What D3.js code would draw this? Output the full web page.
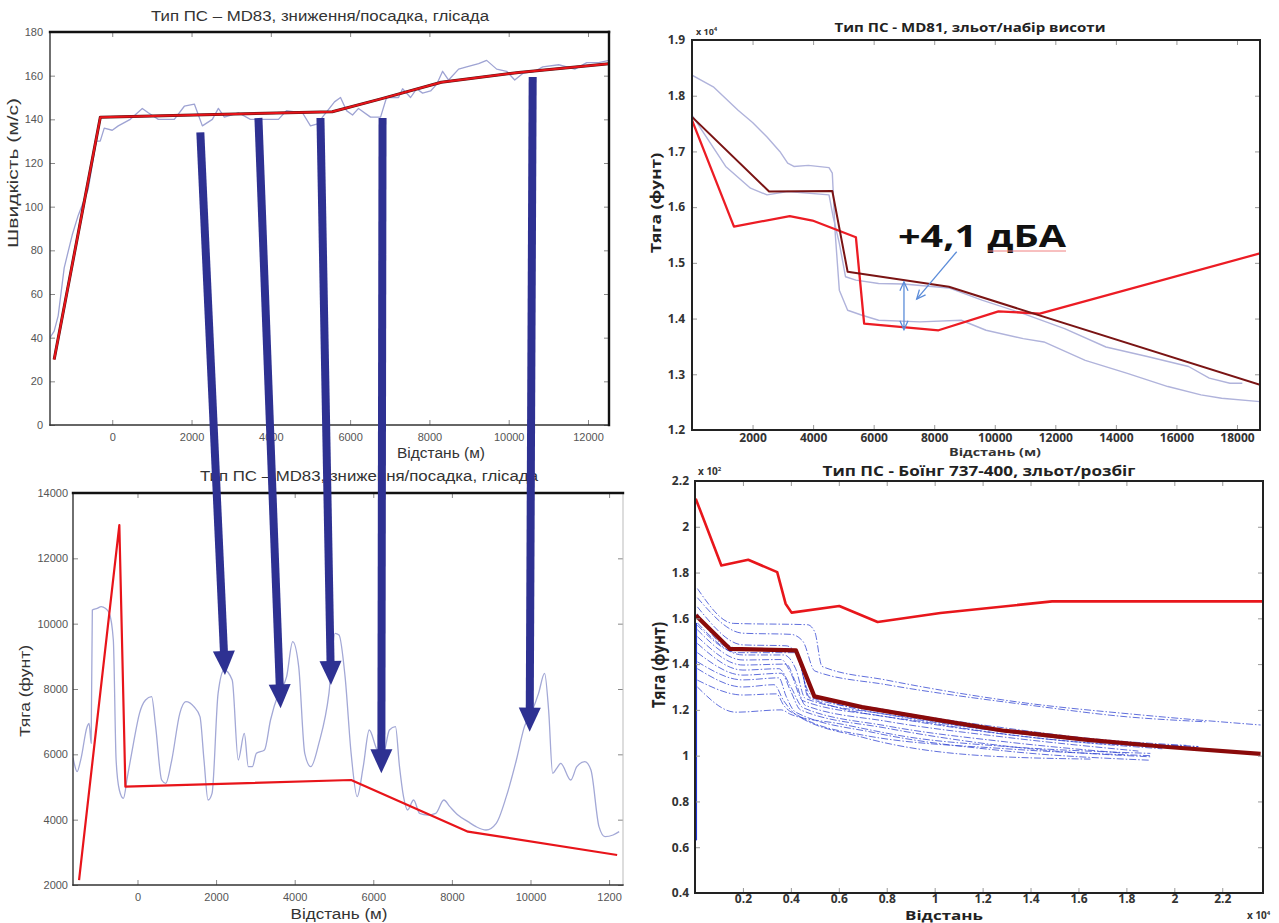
<!DOCTYPE html>
<html>
<head>
<meta charset="utf-8">
<script src="https://cdn.jsdelivr.net/npm/d3@7"></script>
<style>
  body { margin: 0; background: #fff; }
  svg { display: block; }
</style>
</head>
<body>
<div id="chart"></div>
<script>
// ---------- data: top-left, MD83 speed (distance m, speed m/s) ----------
var tlXTicks = [0, 2000, 4000, 6000, 8000, 10000, 12000];
var tlXLabels = ["0", "2000", "4000", "6000", "8000", "10000", "12000"];
var tlYTicks = [0, 20, 40, 60, 80, 100, 120, 140, 160, 180];
var tlModel = [[-1465, 30], [-300, 141], [5550, 143.5], [6800, 149.5], [8300, 157], [10250, 161.5], [12530, 165.5]];
var tlMeasured = [[-1570, 40], [-1465, 43], [-1364, 50], [-1212, 72], [-1010, 87], [-859, 96], [-606, 108], [-404, 130],
  [-303, 130], [-202, 136], [0, 135], [152, 137], [455, 140], [758, 145], [909, 143], [1162, 140], [1566, 140],
  [1818, 146], [2071, 147], [2273, 137], [2525, 140], [2677, 145], [2828, 141], [3182, 143], [3485, 140], [4192, 140],
  [4394, 144], [4798, 143], [5000, 137], [5202, 138], [5303, 141], [5606, 148], [5758, 150], [5909, 144], [6061, 142],
  [6212, 145], [6515, 141], [6768, 141], [6919, 150], [7222, 150], [7323, 154], [7525, 150], [7677, 154], [7828, 152],
  [8030, 153], [8182, 156], [8333, 162], [8485, 158], [8737, 163], [8939, 164], [9242, 165.5], [9444, 167], [9697, 163],
  [9949, 162], [10152, 158], [10354, 161], [10657, 162], [10859, 164], [11263, 165], [11667, 163], [11970, 166],
  [12273, 166], [12530, 167]];

// ---------- data: bottom-left, MD83 thrust (distance m, thrust lb) ----------
var blXTicks = [0, 2000, 4000, 6000, 8000, 10000, 12000];
var blXLabels = ["0", "2000", "4000", "6000", "8000", "10000", "1200"];
var blYTicks = [2000, 4000, 6000, 8000, 10000, 12000, 14000];
var blModel = [[-1487, 2153], [-462, 13020], [-308, 5010], [5436, 5214], [8410, 3633], [12205, 2918]];
var blMeasured = [[-1641, 5900], [-1610, 5724], [-1538, 5469], [-1436, 5878], [-1282, 6847], [-1231, 6949], [-1179, 6337],
  [-1149, 10418], [-1026, 10469], [-923, 10520], [-820, 10469], [-718, 10316], [-615, 9500], [-544, 5826], [-462, 4908],
  [-359, 4653], [-256, 5316], [-103, 6337], [51, 7255], [205, 7663], [359, 7765], [462, 6847], [615, 5214], [718, 5112],
  [872, 5826], [1077, 7255], [1231, 7612], [1436, 7459], [1590, 7153], [1692, 5826], [1795, 4602], [1897, 4806],
  [2051, 7867], [2205, 8582], [2410, 8276], [2564, 5826], [2718, 6643], [2820, 5622], [2923, 5622], [3026, 6031],
  [3231, 6133], [3385, 7051], [3590, 7867], [3795, 8378], [3949, 9449], [4102, 8684], [4256, 6031], [4410, 5622],
  [4615, 6337], [4872, 7867], [5026, 9704], [5128, 9653], [5282, 8378], [5436, 6031], [5590, 4704], [5744, 5622],
  [5897, 6745], [6102, 6133], [6256, 6031], [6410, 6745], [6564, 6847], [6667, 5622], [6769, 4704], [6872, 4296],
  [7026, 4602], [7179, 4194], [7384, 4143], [7589, 4194], [7795, 4602], [7948, 4398], [8154, 4143], [8410, 3939],
  [8615, 3786], [8872, 3684], [9128, 3888], [9384, 4704], [9641, 5826], [9846, 6847], [10051, 7357], [10205, 7867],
  [10359, 8480], [10461, 7357], [10564, 5418], [10666, 5571], [10769, 5724], [11025, 5214], [11179, 5622],
  [11384, 5775], [11538, 5520], [11743, 3786], [11897, 3480], [12102, 3531], [12256, 3633]];

// arrows: start on the speed chart (distance, speed), tip on the thrust chart (distance, thrust)
var arrowStarts = [[2222, 134], [3687, 140.6], [5252, 140.6], [6818, 140.6], [10605, 159.4]];
var arrowTips = [[2226, 8429], [3641, 7408], [4923, 8122], [6205, 5418], [9979, 6694]];

// ---------- data: top-right, MD81 thrust x10^4 lb ----------
var trXTicks = [2000, 4000, 6000, 8000, 10000, 12000, 14000, 16000, 18000];
var trYTicks = [1.2, 1.3, 1.4, 1.5, 1.6, 1.7, 1.8, 1.9];
var trRed = [[0, 1.756], [1386, 1.565], [3228, 1.584], [3980, 1.576], [5413, 1.546], [5686, 1.391], [8143, 1.379],
  [10122, 1.413], [11487, 1.409], [18760, 1.517]];
var trDark = [[0, 1.762], [2546, 1.628], [4634, 1.629], [5140, 1.484], [8484, 1.457], [18760, 1.281]];
var trRunA = [[0, 1.837], [703, 1.816], [1522, 1.774], [2000, 1.752], [2478, 1.726], [2900, 1.70], [3160, 1.679],
  [3365, 1.673], [3843, 1.675], [4525, 1.671], [4634, 1.661], [4730, 1.553], [4866, 1.451], [5140, 1.415],
  [5617, 1.406], [6163, 1.397], [7528, 1.394], [8893, 1.397], [9712, 1.379], [10940, 1.364], [11623, 1.358],
  [12988, 1.325], [14353, 1.302], [15718, 1.278], [16810, 1.263], [17493, 1.257], [18760, 1.251]];
var trRunB = [[0, 1.765], [1113, 1.673], [1932, 1.634], [2478, 1.622], [3160, 1.628], [4525, 1.622], [4661, 1.583],
  [4866, 1.535], [5071, 1.475], [5413, 1.469], [6163, 1.463], [6982, 1.462], [8484, 1.455], [9576, 1.433],
  [10940, 1.409], [12306, 1.382], [13671, 1.349], [15036, 1.332], [16401, 1.314], [17084, 1.293], [17766, 1.284],
  [18176, 1.284]];
var trGap = [[7001, 1.466], [7001, 1.380]];
var trPointer = [[8742, 1.52], [7421, 1.435]];

// ---------- data: bottom-right, Boeing 737-400 thrust x10^2 ----------
var brXTicks = [0.2, 0.4, 0.6, 0.8, 1, 1.2, 1.4, 1.6, 1.8, 2, 2.2];
var brXLabels = ["0.2", "0.4", "0.6", "0.8", "1", "1.2", "1.4", "1.6", "1.8", "2", "2.2"];
var brYTicks = [0.4, 0.6, 0.8, 1, 1.2, 1.4, 1.6, 1.8, 2, 2.2];
var brYLabels = ["0.4", "0.6", "0.8", "1", "1.2", "1.4", "1.6", "1.8", "2", "2.2"];
var brRed = [[0.003, 2.123], [0.110, 1.831], [0.222, 1.856], [0.343, 1.802], [0.378, 1.664], [0.403, 1.625],
  [0.602, 1.654], [0.762, 1.584], [1.024, 1.623], [1.490, 1.674], [2.37, 1.674]];
var brDark = [[0.003, 1.613], [0.145, 1.467], [0.421, 1.460], [0.498, 1.259], [0.697, 1.212], [1.024, 1.154],
  [1.283, 1.110], [1.628, 1.070], [1.972, 1.038], [2.36, 1.008]];
var brRise = [[0.004, 0.63], [0.004, 1.58]];
var brRuns = [
  [[0.01, 1.73], [0.16, 1.578], [0.47, 1.572], [0.5, 1.54], [0.53, 1.39], [0.8, 1.33], [1.38, 1.23], [1.86, 1.178], [2.36, 1.134]],
  [[0.01, 1.69], [0.2, 1.535], [0.4, 1.53], [0.45, 1.5], [0.5, 1.37], [0.8, 1.31], [1.4, 1.22], [1.8, 1.17], [2.13, 1.148]],
  [[0.01, 1.65], [0.2, 1.484], [0.38, 1.48], [0.42, 1.45], [0.48, 1.27], [0.8, 1.2], [1.3, 1.12], [1.7, 1.07], [2.05, 1.045]],
  [[0.01, 1.62], [0.15, 1.47], [0.41, 1.465], [0.5, 1.26], [1.0, 1.15], [1.6, 1.07], [2.1, 1.04]],
  [[0.01, 1.61], [0.2, 1.462], [0.4, 1.46], [0.44, 1.42], [0.47, 1.26], [0.8, 1.19], [1.3, 1.11], [1.8, 1.055], [2.1, 1.04]],
  [[0.01, 1.58], [0.2, 1.44], [0.37, 1.44], [0.42, 1.38], [0.46, 1.25], [0.8, 1.18], [1.4, 1.09], [1.9, 1.04]],
  [[0.01, 1.57], [0.18, 1.45], [0.42, 1.45], [0.48, 1.25], [1.0, 1.14], [1.6, 1.06], [2.05, 1.035]],
  [[0.01, 1.55], [0.2, 1.418], [0.36, 1.42], [0.4, 1.36], [0.45, 1.24], [0.8, 1.17], [1.4, 1.08], [1.95, 1.03]],
  [[0.01, 1.52], [0.2, 1.396], [0.38, 1.40], [0.42, 1.32], [0.46, 1.22], [0.8, 1.15], [1.3, 1.08], [1.85, 1.02]],
  [[0.01, 1.49], [0.2, 1.374], [0.35, 1.38], [0.4, 1.3], [0.45, 1.21], [0.8, 1.13], [1.3, 1.06], [1.8, 1.01]],
  [[0.01, 1.45], [0.2, 1.352], [0.36, 1.36], [0.4, 1.28], [0.44, 1.2], [0.8, 1.12], [1.4, 1.03], [1.9, 0.995]],
  [[0.01, 1.41], [0.2, 1.331], [0.35, 1.34], [0.38, 1.26], [0.42, 1.19], [0.75, 1.1], [1.3, 1.02], [1.9, 0.98]],
  [[0.01, 1.38], [0.2, 1.30], [0.33, 1.31], [0.37, 1.24], [0.42, 1.18], [0.7, 1.08], [1.2, 1.0], [1.65, 0.985]],
  [[0.01, 1.33], [0.2, 1.265], [0.34, 1.27], [0.37, 1.22], [0.44, 1.17], [0.7, 1.09], [1.3, 1.03], [1.9, 1.00]],
  [[0.01, 1.30], [0.17, 1.19], [0.36, 1.20], [0.4, 1.18], [0.6, 1.14], [0.9, 1.08], [1.3, 1.04], [1.9, 1.01]]
];

var W = 1279, H = 923;
var svg = d3.select("#chart").append("svg").attr("width", W).attr("height", H);
svg.append("rect").attr("width", W).attr("height", H).attr("fill", "#fff");

var SANS = "'Liberation Sans', Arial, sans-serif";
var BOLD = "'Open Sans', 'Noto Sans', sans-serif";

function panel(id, box, xDom, yDom) {
  var x = d3.scaleLinear().domain(xDom).range([box.left, box.right]);
  var y = d3.scaleLinear().domain(yDom).range([box.bottom, box.top]);
  svg.append("clipPath").attr("id", id).append("rect")
    .attr("x", box.left).attr("y", box.top)
    .attr("width", box.right - box.left).attr("height", box.bottom - box.top);
  var plot = svg.append("g").attr("clip-path", "url(#" + id + ")");
  return { x: x, y: y, box: box, plot: plot };
}

// matlab style: ticks pointing inwards on all four sides
function axes(p, o) {
  var b = p.box;
  var ax = [
    svg.append("g").attr("transform", "translate(0," + b.bottom + ")")
      .call(d3.axisBottom(p.x).tickValues(o.xTicks).tickFormat(function (d, i) { return o.xLabels[i]; })
        .tickSizeInner(-5).tickSizeOuter(0).tickPadding(o.xPad)),
    svg.append("g").attr("transform", "translate(" + b.left + ",0)")
      .call(d3.axisLeft(p.y).tickValues(o.yTicks).tickFormat(function (d, i) { return o.yLabels[i]; })
        .tickSizeInner(-5).tickSizeOuter(0).tickPadding(o.yPad)),
    svg.append("g").attr("transform", "translate(0," + b.top + ")")
      .call(d3.axisTop(p.x).tickValues(o.xTicks).tickFormat("").tickSizeInner(-5).tickSizeOuter(0)),
    svg.append("g").attr("transform", "translate(" + b.right + ",0)")
      .call(d3.axisRight(p.y).tickValues(o.yTicks).tickFormat("").tickSizeInner(-5).tickSizeOuter(0))
  ];
  ax.forEach(function (g) {
    g.select(".domain").remove();
    g.selectAll(".tick line").attr("stroke", o.tickColor);
    g.selectAll("text").attr("fill", o.color).style("font-family", o.font)
      .style("font-size", o.size + "px").style("font-weight", o.weight);
  });
}

function label(t, x, y, o) {
  var el = svg.append("text").text(t)
    .attr("text-anchor", "middle")
    .attr("fill", o.color || "#222")
    .style("font-family", o.font).style("font-size", o.size + "px")
    .style("font-weight", o.weight || "normal");
  if (o.len) el.attr("textLength", o.len).attr("lengthAdjust", "spacingAndGlyphs");
  if (o.rotate) el.attr("transform", "translate(" + x + "," + y + ") rotate(-90)");
  else el.attr("x", x).attr("y", y);
  return el;
}

function frame(b, sides, color, width) {
  sides.forEach(function (s) {
    var c = { top: [b.left, b.top, b.right, b.top], bottom: [b.left, b.bottom, b.right, b.bottom],
      left: [b.left, b.top, b.left, b.bottom], right: [b.right, b.top, b.right, b.bottom] }[s];
    svg.append("line").attr("x1", c[0]).attr("y1", c[1]).attr("x2", c[2]).attr("y2", c[3])
      .attr("stroke", color).attr("stroke-width", width).attr("stroke-linecap", "square");
  });
}

function path(p, data, color, width, curve) {
  var line = d3.line().x(function (d) { return p.x(d[0]); }).y(function (d) { return p.y(d[1]); })
    .curve(curve || d3.curveLinear);
  return p.plot.append("path").datum(data).attr("d", line)
    .attr("fill", "none").attr("stroke", color).attr("stroke-width", width)
    .attr("stroke-linejoin", "round");
}

// ---------------- top-left ----------------
var tl = panel("clipTL", { left: 50, right: 609, top: 32, bottom: 425 }, [-1570, 12530], [0, 180]);
axes(tl, { xTicks: tlXTicks, xLabels: tlXLabels, yTicks: tlYTicks, yLabels: tlYTicks.map(String),
  xPad: 8, yPad: 7, font: SANS, size: 11, weight: "normal", color: "#555", tickColor: "#888" });
path(tl, tlMeasured, "#9ea3d3", 1.3);
path(tl, tlModel, "#5a1010", 3);
path(tl, tlModel, "#e8141a", 2);
frame(tl.box, ["left", "bottom"], "#333", 1.4);
frame(tl.box, ["top", "right"], "#111", 2.4);
label("Тип ПС – MD83, зниження/посадка, глісада", 320, 21, { font: SANS, size: 14, len: 338, color: "#333" });
label("Швидкість (м/с)", 18, 173, { font: SANS, size: 14, len: 150, rotate: true, color: "#333" });
label("Відстань (м)", 441, 458, { font: SANS, size: 14, len: 88, color: "#333" });

// ---------------- bottom-left ----------------
var bl = panel("clipBL", { left: 73, right: 623, top: 493, bottom: 885 }, [-1641, 12354], [2000, 14000]);
axes(bl, { xTicks: blXTicks, xLabels: blXLabels, yTicks: blYTicks, yLabels: blYTicks.map(String),
  xPad: 8, yPad: 5, font: SANS, size: 11, weight: "normal", color: "#555", tickColor: "#888" });
path(bl, blMeasured, "#a3a8d6", 1.3, d3.curveMonotoneX);
path(bl, blModel, "#e8141a", 2.2);
frame(bl.box, ["right"], "#bbb", 1);
frame(bl.box, ["left", "bottom"], "#333", 1.4);
frame(bl.box, ["top"], "#111", 2.4);
label("Тип ПС – MD83, зниження/посадка, глісада", 369, 481, { font: SANS, size: 14, len: 338, color: "#333" });
label("Тяга (фунт)", 30, 691, { font: SANS, size: 14, len: 92, rotate: true, color: "#333" });
label("Відстань (м)", 339, 919, { font: SANS, size: 14, len: 97, color: "#333" });

// ---------------- top-right ----------------
var tr = panel("clipTR", { left: 692, right: 1260, top: 40, bottom: 430 }, [0, 18760], [1.2, 1.9]);
axes(tr, { xTicks: trXTicks, xLabels: trXTicks.map(String), yTicks: trYTicks, yLabels: trYTicks.map(d3.format(".1f")),
  xPad: 3, yPad: 7, font: BOLD, size: 12, weight: "bold", color: "#333", tickColor: "#999" });
path(tr, trRunA, "#b0b3db", 1.4);
path(tr, trRunB, "#b0b3db", 1.4);
path(tr, trRed, "#ec1c24", 2.3);
path(tr, trDark, "#7a1414", 2);
frame(tr.box, ["top", "bottom", "left", "right"], "#222", 2);

// annotation arrows between the two runs
var annot = d3.line().x(function (d) { return tr.x(d[0]); }).y(function (d) { return tr.y(d[1]); });
function openHead(pt, from, size) {
  var dx = pt[0] - from[0], dy = pt[1] - from[1], l = Math.hypot(dx, dy);
  var ux = dx / l, uy = dy / l;
  return "M" + (pt[0] - ux * size - uy * size * 0.45) + "," + (pt[1] - uy * size + ux * size * 0.45) +
    "L" + pt[0] + "," + pt[1] +
    "L" + (pt[0] - ux * size + uy * size * 0.45) + "," + (pt[1] - uy * size - ux * size * 0.45);
}
var gapPx = trGap.map(function (d) { return [tr.x(d[0]), tr.y(d[1])]; });
var ptrPx = trPointer.map(function (d) { return [tr.x(d[0]), tr.y(d[1])]; });
var annG = svg.append("g").attr("fill", "none").attr("stroke", "#5b8cd9").attr("stroke-width", 1.3);
annG.append("path").attr("d", annot(trGap));
annG.append("path").attr("d", openHead(gapPx[0], gapPx[1], 9));
annG.append("path").attr("d", openHead(gapPx[1], gapPx[0], 9));
annG.append("path").attr("d", annot(trPointer));
annG.append("path").attr("d", openHead(ptrPx[1], ptrPx[0], 9));

label("+4,1 дБА", 982, 247, { font: BOLD, size: 31, weight: "bold", len: 168, color: "#111" });
svg.append("path").attr("d", "M988,251 L1066,251").attr("stroke", "#f08080").attr("stroke-width", 1);

svg.append("text").attr("x", 696).attr("y", 35).attr("fill", "#333")
  .style("font-family", BOLD).style("font-size", "9px").style("font-weight", "bold")
  .text("x 10").append("tspan").attr("dy", -4).style("font-size", "6px").text("4");
label("Тип ПС - MD81, зльот/набір висоти", 970, 32, { font: BOLD, size: 13, weight: "bold", len: 271, color: "#222" });
label("Тяга (фунт)", 661, 203, { font: BOLD, size: 14, weight: "bold", len: 100, rotate: true, color: "#222" });
label("Відстань (м)", 995, 456, { font: BOLD, size: 11, weight: "bold", len: 92, color: "#333" });

// ---------------- bottom-right ----------------
var br = panel("clipBR", { left: 695, right: 1263, top: 481, bottom: 893 }, [0, 2.37], [0.4, 2.2]);
axes(br, { xTicks: brXTicks, xLabels: brXLabels, yTicks: brYTicks, yLabels: brYLabels,
  xPad: 1, yPad: 6, font: BOLD, size: 12, weight: "bold", color: "#333", tickColor: "#999" });
brRuns.forEach(function (run) {
  path(br, run, "#2b3fd0", 1, d3.curveMonotoneX).attr("stroke-dasharray", "7,2,1.5,2").attr("opacity", 0.75);
});
path(br, brRise, "#1f35d8", 2.2);
path(br, brRed, "#e8161b", 2.6);
path(br, brDark, "#8a0a0a", 4.2);
frame(br.box, ["top", "bottom", "left", "right"], "#222", 2);

svg.append("text").attr("x", 698).attr("y", 475).attr("fill", "#333")
  .style("font-family", BOLD).style("font-size", "10px").style("font-weight", "bold")
  .text("x 10").append("tspan").attr("dy", -4).style("font-size", "6px").text("2");
svg.append("text").attr("x", 1247).attr("y", 919).attr("fill", "#333")
  .style("font-family", BOLD).style("font-size", "10px").style("font-weight", "bold")
  .text("x 10").append("tspan").attr("dy", -4).style("font-size", "6px").text("4");
label("Тип ПС - Боїнг 737-400, зльот/розбіг", 979, 476, { font: BOLD, size: 15, weight: "bold", len: 313, color: "#222" });
label("Тяга (фунт)", 665, 665, { font: BOLD, size: 17, weight: "bold", len: 86, rotate: true, color: "#222" });
label("Відстань", 944, 920, { font: BOLD, size: 13, weight: "bold", len: 78, color: "#222" });

// ---------------- navy arrows linking speed and thrust charts ----------------
var navy = "#2e3192";
var arrows = svg.append("g");
arrowStarts.forEach(function (s, i) {
  var a = [tl.x(s[0]), tl.y(s[1])];
  var t = [bl.x(arrowTips[i][0]), bl.y(arrowTips[i][1])];
  var dx = t[0] - a[0], dy = t[1] - a[1], l = Math.hypot(dx, dy);
  var ux = dx / l, uy = dy / l, head = 24, half = 11;
  var base = [t[0] - ux * head, t[1] - uy * head];
  arrows.append("line").attr("x1", a[0]).attr("y1", a[1]).attr("x2", base[0] + ux * 2).attr("y2", base[1] + uy * 2)
    .attr("stroke", navy).attr("stroke-width", 8);
  arrows.append("path")
    .attr("d", "M" + t[0] + "," + t[1] + "L" + (base[0] - uy * half) + "," + (base[1] + ux * half) +
      "L" + (base[0] + uy * half) + "," + (base[1] - ux * half) + "Z")
    .attr("fill", navy);
});
</script>
</body>
</html>
